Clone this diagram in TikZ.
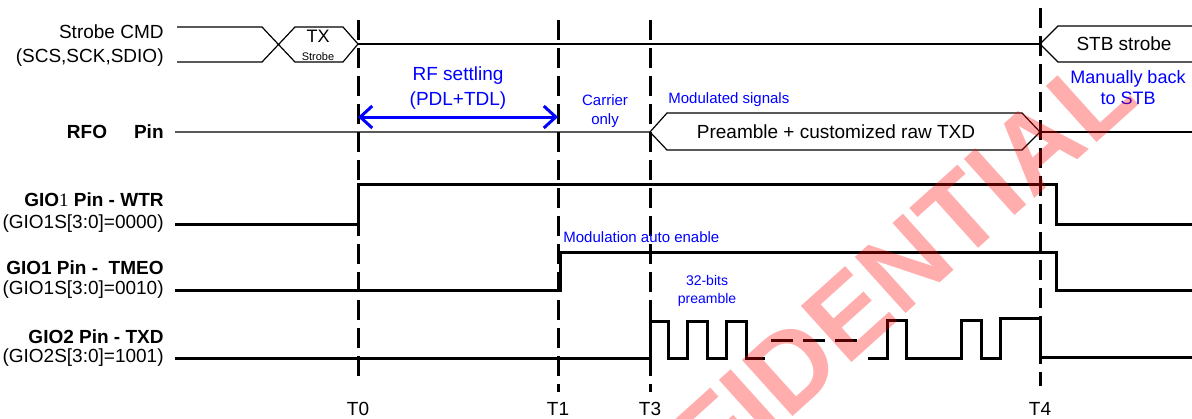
\documentclass[tikz,border=0pt]{standalone}
\usepackage{fontspec}
\setmainfont{Liberation Sans}
\newfontfamily\thinone{Liberation Serif}
\usetikzlibrary{arrows.meta}

\newcommand\pinfont{\fontsize{9.5pt}{11pt}\selectfont}
\newcommand\notefont{\fontsize{7.5pt}{9.5pt}\selectfont}

\begin{document}
\begin{tikzpicture}[x = 0.5pt, y = -0.5pt,
        wave/.style = {line width = 1.5pt},
        bus/.style = {line width = 0.6pt},
        marker/.style = {line width = 1.5pt, dash pattern = on 10pt off 4pt},
        note/.style = {text = blue, inner sep = 0pt, font = \notefont},
        pinname/.style = {anchor = east, inner sep = 0pt, font = \pinfont}]
        \useasboundingbox ( 0, 0 ) rectangle ( 1192, 418 );

        % моменты времени
        \def \tZ { 358 };
        \def \tA { 558 };
        \def \tC { 650 };
        \def \tD { 1040 };

        % вертикальные метки
        \draw [marker] ( \tZ, 20 ) -- ( \tZ, 378 );
        \draw [marker] ( \tA, 20 ) -- ( \tA, 392 );
        \draw [marker] ( \tC, 20 ) -- ( \tC, 392 );
        \draw [marker] ( \tD, 8 ) -- ( \tD, 386 );
        \node (t0) [font = \pinfont] at ( \tZ, 409 ) {T0};
        \node (t1) [font = \pinfont] at ( \tA, 409 ) {T1};
        \node (t3) [font = \pinfont] at ( \tC, 409 ) {T3};
        \node (t4) [font = \pinfont] at ( \tD, 409 ) {T4};

        % подписи выводов
        \node (cmd) [pinname] at ( 164, 32 ) {Strobe CMD};
        \node (spi) [pinname] at ( 164, 58 ) {(SCS,SCK,SDIO)};
        \node (rfo) [pinname, font = \pinfont\bfseries] at ( 164, 132 ) {RFO\hspace{13.5pt}Pin};
        \node (wtr) [pinname, font = \pinfont\bfseries] at ( 164, 200 ) {GIO{\mdseries\thinone 1} Pin - WTR};
        \node (wtrs) [pinname] at ( 164, 224 ) {(GIO1S[3:0]=0000)};
        \node (tmeo) [pinname, font = \pinfont\bfseries] at ( 164, 268 ) {GIO1 Pin -\ \ TMEO};
        \node (tmeos) [pinname] at ( 164, 290 ) {(GIO1S[3:0]=0010)};
        \node (txd) [pinname, font = \pinfont\bfseries] at ( 164, 337 ) {GIO2 Pin - TXD};
        \node (txds) [pinname] at ( 164, 358 ) {(GIO2S[3:0]=1001)};

        % команда строба
        \draw [bus] ( 177, 27 ) -- ( 262, 27 ) -- ( 295, 62 ) -- ( 343, 62 ) -- ( \tZ, 44 )
            -- ( 343, 27 ) -- ( 295, 27 ) -- ( 262, 62 ) -- ( 177, 62 );
        \draw [bus] ( \tZ, 44 ) -- ( \tD, 44 );
        \draw [bus] ( 1192, 26 ) -- ( 1058, 26 ) -- ( \tD, 44 ) -- ( 1058, 62 ) -- ( 1192, 62 );
        \node (tx) [font = \fontsize{9pt}{10pt}\selectfont] at ( 318, 36 ) {TX};
        \node (txstb) [font = \fontsize{5.5pt}{6.5pt}\selectfont] at ( 318, 57 ) {Strobe};
        \node (stb) [font = \pinfont] at ( 1124, 44 ) {STB strobe};

        % вывод RFO
        \draw [bus] ( 175, 132 ) -- ( \tC, 132 ) -- ( 667, 113 ) -- ( 1022, 113 ) -- ( \tD, 132 )
            -- ( 1022, 150 ) -- ( 667, 150 ) -- ( \tC, 132 );
        \draw [bus] ( \tD, 132 ) -- ( 1192, 132 );
        \node (raw) [font = \pinfont] at ( 836, 132 ) {Preamble + customized raw TXD};

        % RF settling
        \coordinate (rfa) at ( \tZ, 117 );
        \coordinate (rfb) at ( \tA, 117 );
        \draw [blue, line width = 1.5pt, {Straight Barb[length = 6pt, width = 11pt]}-{Straight Barb[length = 6pt, width = 11pt]}] (rfa) -- (rfb);
        \node (rf) [note, align = center, font = \fontsize{9.5pt}{12.5pt}\selectfont] at ( 458, 88 ) {RF settling\\(PDL+TDL)};
        \node (carrier) [note, align = center] at ( 605, 111 ) {Carrier\\only};
        \node (modsig) [note, anchor = west] at ( 668, 100 ) {Modulated signals};
        \node (back) [note, align = center, font = \fontsize{9pt}{10.5pt}\selectfont] at ( 1128, 88 ) {Manually back\\to STB};

        % GIO1 - WTR
        \draw [wave] ( 175, 224 ) -- ( \tZ, 224 ) -- ( \tZ, 184 ) -- ( 1056, 184 ) -- ( 1056, 224 ) -- ( 1192, 224 );

        % GIO1 - TMEO
        \draw [wave] ( 175, 290 ) -- ( 560, 290 ) -- ( 560, 252 ) -- ( 1056, 252 ) -- ( 1056, 290 ) -- ( 1192, 290 );
        \node (auto) [note, anchor = west] at ( 563, 237 ) {Modulation auto enable};

        % GIO2 - TXD
        \draw [wave] ( 175, 358 ) -- ( \tC, 358 ) -- ( \tC, 321 ) -- ( 668, 321 ) -- ( 668, 358 )
            -- ( 687, 358 ) -- ( 687, 321 ) -- ( 707, 321 ) -- ( 707, 358 ) -- ( 726, 358 )
            -- ( 726, 321 ) -- ( 746, 321 ) -- ( 746, 358 ) -- ( 765, 358 );
        \draw [wave, dash pattern = on 11pt off 5pt] ( 771, 340 ) -- ( 860, 340 );
        \draw [wave] ( 868, 358 ) -- ( 887, 358 ) -- ( 887, 320 ) -- ( 906, 320 ) -- ( 906, 358 )
            -- ( 961, 358 ) -- ( 961, 320 ) -- ( 981, 320 ) -- ( 981, 358 ) -- ( 1000, 358 )
            -- ( 1000, 318 ) -- ( \tD, 318 ) -- ( \tD, 357 ) -- ( 1192, 357 );
        \node (bits) [note, align = center, font = \fontsize{7pt}{9pt}\selectfont] at ( 707, 291 ) {32-bits\\preamble};

        % водяной знак
        \begin{scope}
            \clip ( 0, 0 ) rectangle ( 1192, 418 );
            \node (mark) [rotate = 42, text = red, text opacity = 0.32, font = \fontsize{55pt}{60pt}\selectfont\bfseries] at ( 812, 348 ) {CONFIDENTIAL};
        \end{scope}
    \end{tikzpicture}
\end{document}
